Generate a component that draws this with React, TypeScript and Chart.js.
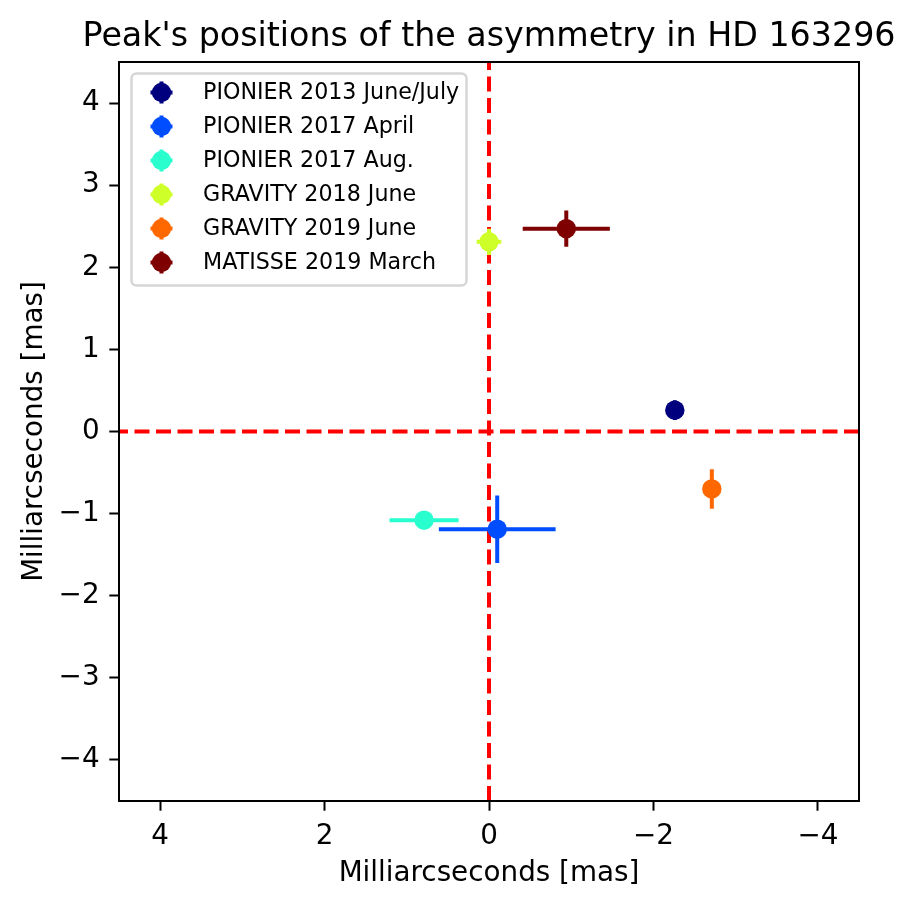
import { useEffect, useRef } from "react";
import { Chart, registerables } from "chart.js";

Chart.register(...registerables);

// data (milliarcseconds)
const seriesNames = [
  "PIONIER 2013 June/July",
  "PIONIER 2017 April",
  "PIONIER 2017 Aug.",
  "GRAVITY 2018 June",
  "GRAVITY 2019 June",
  "MATISSE 2019 March",
];
const xPos = [-2.26, -0.1, 0.79, 0.0, -2.71, -0.94];
const yPos = [0.26, -1.19, -1.08, 2.31, -0.7, 2.47];
const xErr = [0.08, 0.71, 0.42, 0.15, 0.08, 0.53];
const yErr = [0.12, 0.41, 0.08, 0.16, 0.24, 0.22];
const seriesColors = ["#00007f", "#004cff", "#29ffce", "#ceff29", "#ff6800", "#7f0000"];

const xTicks = [4, 2, 0, -2, -4];
const yTicks = [-4, -3, -2, -1, 0, 1, 2, 3, 4];
const axisMin = -4.5;
const axisMax = 4.5;
const chartTitle = "Peak's positions of the asymmetry in HD 163296";

const FONT = "'DejaVu Sans', sans-serif";
const fmt = (v: any) => (Number(v) < 0 ? "\u2212" + Math.abs(Number(v)) : String(v));

// error bars drawn right before each scatter point
const errorBars = {
  id: "errorBars",
  beforeDatasetDraw(chart: any, args: any) {
    const ds = chart.data.datasets[args.index];
    if (ds.type !== "scatter") return;
    const { ctx, scales } = chart;
    const i = ds.seriesIndex;
    const px = scales.x.getPixelForValue(xPos[i]);
    const py = scales.y.getPixelForValue(yPos[i]);
    ctx.save();
    ctx.strokeStyle = seriesColors[i];
    ctx.lineWidth = 4;
    ctx.beginPath();
    ctx.moveTo(scales.x.getPixelForValue(xPos[i] - xErr[i]), py);
    ctx.lineTo(scales.x.getPixelForValue(xPos[i] + xErr[i]), py);
    ctx.moveTo(px, scales.y.getPixelForValue(yPos[i] - yErr[i]));
    ctx.lineTo(px, scales.y.getPixelForValue(yPos[i] + yErr[i]));
    ctx.stroke();
    ctx.restore();
  },
};

// axes frame, title (centred on the plot area) and legend box
const frameAndLegend = {
  id: "frameAndLegend",
  afterDatasetsDraw(chart: any) {
    const { ctx, chartArea } = chart;
    ctx.save();
    ctx.strokeStyle = "#000";
    ctx.lineWidth = 2;
    ctx.strokeRect(chartArea.left, chartArea.top, chartArea.right - chartArea.left, chartArea.bottom - chartArea.top);

    ctx.fillStyle = "#000";
    ctx.font = "33.3px " + FONT;
    ctx.textAlign = "center";
    ctx.textBaseline = "alphabetic";
    ctx.fillText(chartTitle, (chartArea.left + chartArea.right) / 2, 46);

    const bx = chartArea.left + 12.5;
    const by = chartArea.top + 11.5;
    const bw = 335;
    const bh = 212;
    ctx.beginPath();
    ctx.roundRect(bx, by, bw, bh, 5);
    ctx.fillStyle = "rgba(255,255,255,0.8)";
    ctx.fill();
    ctx.strokeStyle = "#d6d6d6";
    ctx.lineWidth = 2.5;
    ctx.stroke();

    ctx.font = "22.2px " + FONT;
    ctx.textBaseline = "middle";
    ctx.textAlign = "left";
    seriesNames.forEach((name, i) => {
      const cy = by + 19 + i * 34;
      const cx = bx + 30;
      ctx.strokeStyle = seriesColors[i];
      ctx.lineWidth = 4;
      ctx.beginPath();
      ctx.moveTo(cx, cy - 11);
      ctx.lineTo(cx, cy + 11);
      ctx.moveTo(cx - 11, cy);
      ctx.lineTo(cx + 11, cy);
      ctx.stroke();
      ctx.beginPath();
      ctx.arc(cx, cy, 9.7, 0, Math.PI * 2);
      ctx.fillStyle = seriesColors[i];
      ctx.fill();
      ctx.fillStyle = "#000";
      ctx.fillText(name, bx + 71.5, cy + 1);
    });
    ctx.restore();
  },
};

export default function App() {
  const canvasRef = useRef<HTMLCanvasElement | null>(null);

  useEffect(() => {
    document.body.style.margin = "0";
    const canvas = canvasRef.current;
    if (!canvas) return;

    const scatterSets = seriesNames.map((name, i) => ({
      type: "scatter" as const,
      label: name,
      seriesIndex: i,
      data: [{ x: xPos[i], y: yPos[i] }],
      backgroundColor: seriesColors[i],
      borderWidth: 0,
      pointRadius: 9.7,
      order: 0,
    }));

    const refLine = (data: any[]) => ({
      type: "line" as const,
      label: "",
      data,
      borderColor: "#ff0000",
      borderWidth: 4,
      borderDash: [15, 6.5],
      pointRadius: 0,
      fill: false,
      order: 10,
    });

    const chart = new Chart(canvas, {
      type: "scatter",
      data: {
        datasets: [
          ...scatterSets,
          refLine([{ x: 0, y: axisMin }, { x: 0, y: axisMax }]),
          refLine([{ x: axisMin, y: 0 }, { x: axisMax, y: 0 }]),
        ] as any,
      },
      options: {
        responsive: false,
        animation: false,
        layout: { padding: { left: 0, right: 57, top: 62, bottom: 0 } },
        plugins: {
          legend: { display: false },
          tooltip: { enabled: false },
          title: { display: false },
        },
        scales: {
          x: {
            type: "linear",
            min: axisMin,
            max: axisMax,
            reverse: true,
            afterBuildTicks: (s: any) => {
              s.ticks = xTicks.map((v) => ({ value: v }));
            },
            afterFit: (s: any) => {
              s.height = 107;
            },
            ticks: {
              callback: fmt,
              color: "#000",
              padding: 9.7,
              font: { family: FONT, size: 27.8 },
            },
            grid: {
              drawOnChartArea: false,
              drawTicks: true,
              tickLength: 9.7,
              tickWidth: 2,
              tickColor: "#000",
            },
            border: { display: false },
            title: {
              display: true,
              text: "Milliarcseconds [mas]",
              color: "#000",
              font: { family: FONT, size: 27.8 },
              padding: { top: 0, bottom: 18 },
            },
          },
          y: {
            type: "linear",
            min: axisMin,
            max: axisMax,
            afterBuildTicks: (s: any) => {
              s.ticks = yTicks.map((v) => ({ value: v }));
            },
            afterFit: (s: any) => {
              s.width = 119;
            },
            ticks: {
              callback: fmt,
              color: "#000",
              padding: 9.7,
              font: { family: FONT, size: 27.8 },
            },
            grid: {
              drawOnChartArea: false,
              drawTicks: true,
              tickLength: 9.7,
              tickWidth: 2,
              tickColor: "#000",
            },
            border: { display: false },
            title: {
              display: true,
              text: "Milliarcseconds [mas]",
              color: "#000",
              font: { family: FONT, size: 27.8 },
              padding: { top: 18, bottom: 0 },
            },
          },
        },
      },
      plugins: [errorBars, frameAndLegend],
    });

    return () => {
      chart.destroy();
    };
  }, []);

  return (
    <div style={{ width: 916, height: 908, background: "#fff" }}>
      <canvas ref={canvasRef} width={916} height={908} />
    </div>
  );
}
